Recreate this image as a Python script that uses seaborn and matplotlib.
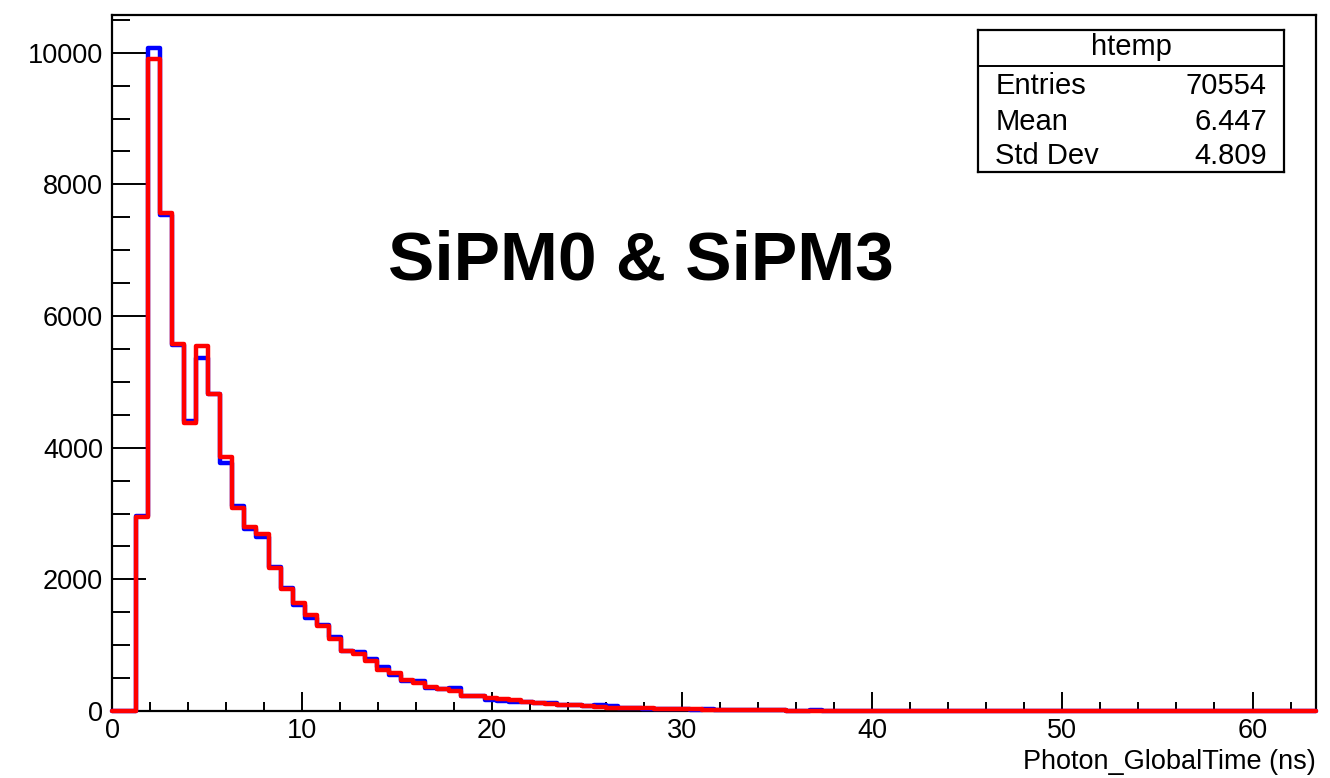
import numpy as np
import pandas as pd
import matplotlib
matplotlib.use("Agg")
import matplotlib.pyplot as plt
from matplotlib.ticker import MultipleLocator
import seaborn as sns

# Histogram binning of Photon_GlobalTime (ns)
x_min, x_max, n_bins = 0.0, 63.34, 100

# Bin contents (counts per bin), SiPM0 in blue, SiPM3 in red
sipm0_counts = [
    0, 0, 2960, 10070, 7530, 5560, 4400, 5360, 4820, 3760,
    3110, 2760, 2640, 2190, 1870, 1610, 1420, 1310, 1130, 910,
    890, 790, 670, 550, 450, 455, 350, 330, 345, 235,
    225, 170, 150, 140, 130, 120, 115, 95, 90, 80,
    85, 70, 45, 40, 30, 35, 30, 25, 20, 25,
    15, 20, 10, 12, 8, 10, 5, 3, 8, 2,
    1, 1, 1, 1, 0, 6, 1, 0, 1, 0,
    0, 1, 0, 0, 0, 0, 0, 0, 0, 0,
    0, 0, 0, 0, 0, 0, 0, 0, 0, 0,
    0, 0, 0, 0, 0, 0, 0, 0, 0, 0,
]
sipm3_counts = [
    0, 0, 2950, 9900, 7560, 5580, 4370, 5550, 4810, 3860,
    3080, 2800, 2690, 2180, 1860, 1640, 1460, 1290, 1090, 910,
    870, 760, 630, 570, 470, 430, 360, 330, 310, 230,
    230, 200, 180, 160, 140, 125, 110, 95, 85, 80,
    60, 45, 50, 45, 40, 35, 30, 30, 25, 20,
    20, 15, 12, 10, 10, 8, 5, 3, 1, 2,
    1, 2, 1, 0, 1, 3, 0, 1, 0, 0,
    0, 0, 0, 0, 0, 0, 0, 0, 0, 0,
    0, 0, 0, 0, 0, 0, 0, 0, 0, 0,
    0, 0, 0, 0, 0, 0, 0, 0, 0, 0,
]

stat_labels = ["Entries", "Mean", "Std Dev"]
stat_values = ["70554", "6.447", "4.809"]

edges = np.linspace(x_min, x_max, n_bins + 1)
centers = 0.5 * (edges[:-1] + edges[1:])
df = pd.DataFrame({"t": centers, "sipm0": sipm0_counts, "sipm3": sipm3_counts})

sns.set_style("ticks")
plt.rcParams["font.family"] = ["Liberation Sans", "DejaVu Sans"]
for key in ("text.color", "axes.labelcolor", "xtick.color", "ytick.color", "axes.edgecolor"):
    plt.rcParams[key] = "black"

fig = plt.figure(figsize=(13.3, 7.78), dpi=100)
ax = fig.add_axes([112 / 1330, 1 - 711 / 778, (1316 - 112) / 1330, (711 - 15) / 778])

for col, color in (("sipm0", "#0000ff"), ("sipm3", "#ff0000")):
    sns.histplot(data=df, x="t", weights=col, bins=list(edges), element="step",
                 fill=False, color=color, linewidth=3.2, ax=ax)

# the outlines sit on top of the frame, as in a ROOT canvas
for ln in ax.get_lines():
    ln.set_clip_on(False)
    ln.set_zorder(3)

ax.set_xlim(x_min, x_max)
ax.set_ylim(0, 1.05 * max(sipm0_counts))
ax.set_ylabel("")
ax.set_xlabel("Photon_GlobalTime (ns)", fontsize=19.5, loc="right")
ax.xaxis.set_label_coords(1.0, -0.054)

ax.xaxis.set_major_locator(MultipleLocator(10))
ax.xaxis.set_minor_locator(MultipleLocator(2))
ax.yaxis.set_major_locator(MultipleLocator(2000))
ax.yaxis.set_minor_locator(MultipleLocator(500))

ax.tick_params(axis="both", which="both", direction="in", width=1.4,
               top=False, right=False, labelsize=19.5, colors="black")
ax.tick_params(axis="y", which="major", length=24.5, pad=6.5)
ax.tick_params(axis="y", which="minor", length=13)
ax.tick_params(axis="x", which="major", length=13.7, pad=5)
ax.tick_params(axis="x", which="minor", length=6.5)

for s in ax.spines.values():
    s.set_visible(True)
    s.set_linewidth(1.6)
    s.set_color("black")

fig.text(641 / 1330, 1 - 261 / 778, "SiPM0 & SiPM3", ha="center", va="center",
         fontsize=50, fontweight="bold", color="black")

# Statistics box
sbox = fig.add_axes([978 / 1330, 1 - 172 / 778, 306 / 1330, 142 / 778])
sbox.set_xlim(0, 1)
sbox.set_ylim(0, 1)
sbox.set_xticks([])
sbox.set_yticks([])
for s in sbox.spines.values():
    s.set_visible(True)
    s.set_linewidth(1.6)
    s.set_color("black")
sbox.axhline((172 - 65.7) / 142, color="black", linewidth=1.4)
sbox.text(0.503, 0.824, "htemp", ha="center", va="baseline", fontsize=21, color="black")
for lab, val, yb in zip(stat_labels, stat_values, (0.549, 0.296, 0.056)):
    sbox.text(0.056, yb, lab, ha="left", va="baseline", fontsize=21, color="black")
    sbox.text(0.944, yb, val, ha="right", va="baseline", fontsize=21, color="black")

fig.savefig("out.png", dpi=100, facecolor="white")
